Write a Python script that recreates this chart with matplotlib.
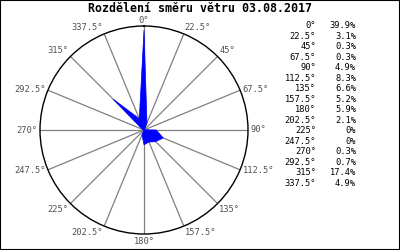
import matplotlib
matplotlib.use("Agg")
import matplotlib.pyplot as plt
import numpy as np
from matplotlib.patches import Rectangle

# směry a četnosti (%)
directions = [0, 22.5, 45, 67.5, 90, 112.5, 135, 157.5, 180, 202.5,
              225, 247.5, 270, 292.5, 315, 337.5]
shares = [39.9, 3.1, 0.3, 0.3, 4.9, 8.3, 6.6, 5.2, 5.9, 2.1,
          0, 0, 0.3, 0.7, 17.4, 4.9]
title = "Rozdělení směru větru 03.08.2017"

font = "DejaVu Sans Mono"
fig = plt.figure(figsize=(4, 2.5), dpi=100)
ax = fig.add_axes([0.1, 0.064, 0.52, 0.832], projection="polar")
ax.set_theta_zero_location("N")
ax.set_theta_direction(-1)
rmax = max(shares) * 1.04
ax.set_ylim(0, rmax)
ax.set_xticks([])
ax.set_yticks([])
ax.grid(False)
ax.spines["polar"].set_color("black")
ax.spines["polar"].set_linewidth(1.0)

theta = np.radians(directions)

# paprsky
for t in theta:
    ax.plot([t, t], [0, rmax], color="#808080", lw=0.9, zorder=1)

# růžice
tt = np.append(theta, theta[0])
rr = np.append(shares, shares[0])
ax.fill(tt, rr, color="#0000ff", zorder=3, lw=0.5, ec="#0000ff")

# popisky úhlů
for d, t in zip(directions, theta):
    s, c = np.sin(t), np.cos(t)
    ha = "left" if s > 0.01 else ("right" if s < -0.01 else "center")
    va = "bottom" if c > 0.5 else ("top" if c < -0.5 else "center")
    off = 1.005 if d == 0 else 1.025
    ax.text(t, rmax * off, f"{d:g}°", ha=ha, va=va, fontsize=6.3,
            family=font, color="#505050", clip_on=False)

fig.text(0.5, 0.966, title, ha="center", va="center", fontsize=8.4,
         family=font, fontweight="bold")

# tabulka vpravo
for i, (d, v) in enumerate(zip(directions, shares)):
    y = 1 - (25.7 + 10.5 * i) / 250
    fig.text(316 / 400, y, f"{d:g}°", ha="right", va="center",
             fontsize=6.3, family=font)
    fig.text(356 / 400, y, f"{v:g}%", ha="right", va="center",
             fontsize=6.3, family=font)

fig.add_artist(Rectangle((0, 0), 1, 1, transform=fig.transFigure,
                         fill=False, ec="black", lw=1.5))
fig.savefig("out.png", dpi=100)
